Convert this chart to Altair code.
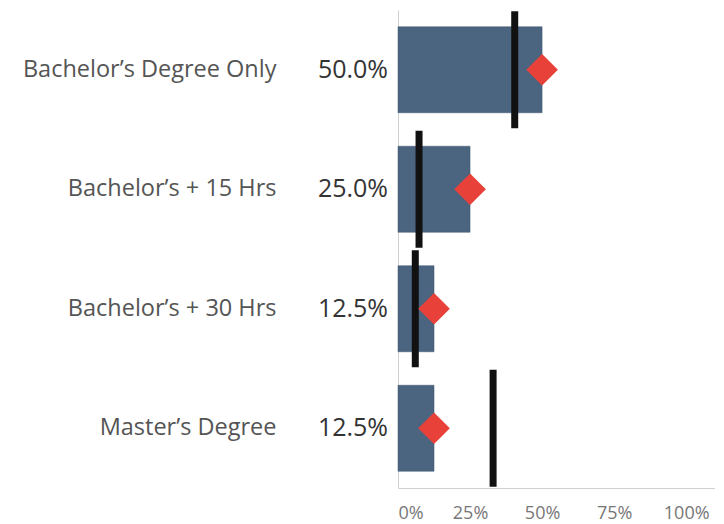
import altair as alt
import pandas as pd

categories = ["Bachelor’s Degree Only", "Bachelor’s + 15 Hrs", "Bachelor’s + 30 Hrs", "Master’s Degree"]
values = [0.50, 0.25, 0.125, 0.125]
markers = [0.50, 0.25, 0.125, 0.125]
targets = [0.405, 0.073, 0.06, 0.33]

df = pd.DataFrame({"category": categories, "value": values, "marker": markers, "target": targets})

FONT = "Open Sans"

y = alt.Y("category:N", sort=categories, title=None,
          axis=alt.Axis(domain=True, domainColor="#d0d0d0", domainWidth=1, ticks=False,
                        labelFontSize=23.5, labelColor="#555555", labelFont=FONT,
                        labelPadding=122, labelLimit=400))
xscale = alt.Scale(domain=[0, 1.1], nice=False)
xaxis = alt.Axis(values=[0, 0.25, 0.5, 0.75, 1.0], format=".0%", grid=False, ticks=False,
                 domainColor="#d0d0d0", labelFontSize=18, labelColor="#777777", labelFont=FONT,
                 labelPadding=16, labelFlush=True, title=None)

base = alt.Chart(df)

bars = base.mark_bar(size=86, color="#4b6580", stroke="#3e566e", strokeWidth=0.5).encode(
    x=alt.X("value:Q", scale=xscale, axis=xaxis), y=y)

ticks = base.mark_tick(thickness=7, size=117, color="#111111", orient="vertical", opacity=1).encode(
    x=alt.X("target:Q", scale=xscale), y=y)

diamonds = base.mark_point(shape="diamond", filled=True, size=1000, color="#e8413a", opacity=1).encode(
    x=alt.X("marker:Q", scale=xscale), y=y)

labels = base.mark_text(align="right", baseline="middle", dx=-10, fontSize=25, font=FONT, color="#333333").encode(
    x=alt.datum(0), y=y, text=alt.Text("value:Q", format=".1%"))

chart = alt.layer(bars, ticks, diamonds, labels).properties(
    width=317, height=478, padding={"left": 14, "top": 2, "right": 0, "bottom": 0}
).configure_view(stroke=None)

chart.save("out.html", embed_options={"renderer": "svg", "actions": False})
